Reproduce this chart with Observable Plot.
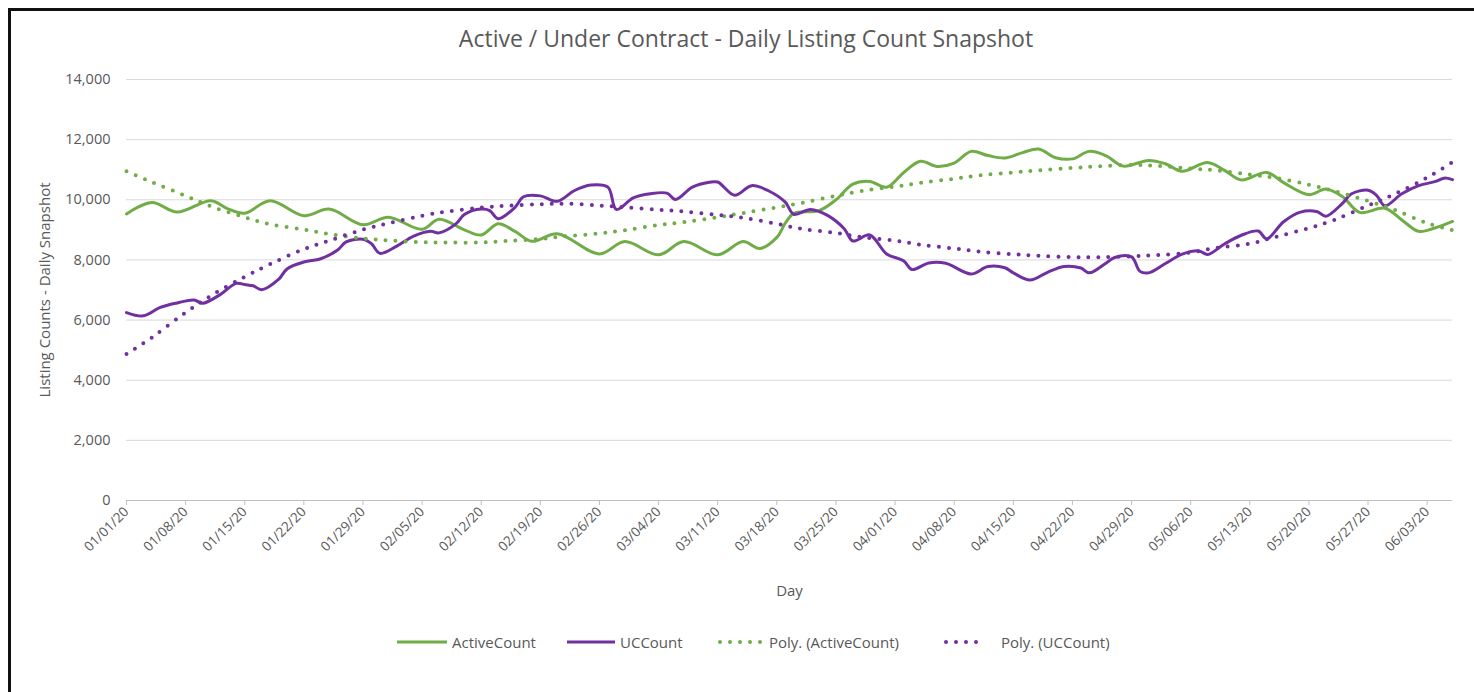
<!DOCTYPE html>
<html>
<head>
<meta charset="utf-8">
<script src="https://cdn.jsdelivr.net/npm/d3@7"></script>
<script src="https://cdn.jsdelivr.net/npm/@observablehq/plot@0.6"></script>
<style>
  html, body { margin: 0; padding: 0; background: #fff; }
  body { width: 1474px; height: 692px; position: relative; overflow: hidden; font-family: "Open Sans", sans-serif; color: #595959; }
  #frame { position: absolute; left: 8px; top: 8px; width: 1480px; height: 700px; border-left: 3px solid #111; border-top: 3px solid #111; box-sizing: border-box; }
  #title { position: absolute; left: 746px; top: 22px; transform: translateX(-50%); font-size: 23px; white-space: nowrap; color: #595959; }
  #chart { position: absolute; left: 0; top: 60px; }
  .leg { position: absolute; top: 632px; height: 20px; display: flex; align-items: center; font-size: 15px; color: #595959; white-space: nowrap; }
  .leg svg { display: block; margin-right: 3px; }
</style>
</head>
<body>
<div id="frame"></div>
<div id="title">Active / Under Contract - Daily Listing Count Snapshot</div>
<div id="chart"></div>
<div id="legend"></div>
<script>
// ---------- data ----------
const yTicks = [0, 2000, 4000, 6000, 8000, 10000, 12000, 14000];
const xTickLabels = ["01/01/20","01/08/20","01/15/20","01/22/20","01/29/20","02/05/20","02/12/20","02/19/20","02/26/20","03/04/20","03/11/20","03/18/20","03/25/20","04/01/20","04/08/20","04/15/20","04/22/20","04/29/20","05/06/20","05/13/20","05/20/20","05/27/20","06/03/20"];
const xDomain = ["01/01/20", "06/06/20"];

const activeDates = ["01/01","01/04","01/07","01/11","01/13","01/15","01/18","01/22","01/25","01/29","02/01","02/05","02/07","02/10","02/12","02/14","02/16","02/18","02/21","02/26","02/29","03/04","03/07","03/11","03/14","03/16","03/18","03/19","03/20","03/23","03/25","03/27","03/29","03/31","04/02","04/04","04/06","04/08","04/10","04/12","04/14","04/16","04/18","04/20","04/22","04/24","04/26","04/28","05/01","05/03","05/05","05/08","05/10","05/12","05/15","05/17","05/20","05/22","05/24","05/26","05/29","05/31","06/02","06/04","06/06"];
const activeValues = [9530,9910,9590,9970,9700,9555,9970,9470,9690,9170,9420,9020,9355,9000,8830,9200,8950,8620,8870,8200,8610,8170,8610,8170,8610,8380,8750,9220,9550,9640,10000,10520,10610,10420,10900,11280,11110,11220,11610,11470,11390,11560,11690,11400,11360,11610,11460,11120,11310,11200,10950,11240,10980,10660,10910,10570,10170,10360,10100,9580,9720,9330,8950,9070,9280];

const ucDates = ["01/01","01/03","01/05","01/07","01/09","01/10","01/12","01/14","01/15","01/16","01/17","01/19","01/20","01/22","01/24","01/26","01/27","01/29","01/30","01/31","02/02","02/04","02/06","02/07","02/09","02/10","02/12","02/13","02/14","02/16","02/17","02/19","02/21","02/23","02/25","02/27","02/28","03/01","03/03","03/05","03/06","03/08","03/10","03/11","03/13","03/15","03/17","03/19","03/20","03/22","03/24","03/26","03/27","03/29","03/31","04/02","04/03","04/05","04/07","04/10","04/12","04/14","04/15","04/17","04/19","04/21","04/23","04/24","04/26","04/27","04/29","04/30","05/01","05/03","05/05","05/07","05/08","05/10","05/12","05/14","05/15","05/17","05/19","05/21","05/22","05/24","05/25","05/27","05/28","05/29","05/31","06/02","06/04","06/05","06/06"];
const ucValues = [6250,6140,6420,6570,6670,6560,6830,7220,7180,7140,7010,7350,7700,7930,8040,8330,8600,8690,8540,8220,8460,8790,8950,8900,9200,9510,9690,9640,9370,9750,10100,10130,9950,10300,10490,10420,9680,10060,10200,10220,10010,10420,10580,10590,10150,10470,10300,9920,9520,9680,9480,9030,8630,8830,8200,7970,7680,7900,7890,7530,7780,7740,7570,7330,7580,7780,7730,7570,7900,8080,8100,7620,7570,7880,8190,8300,8180,8530,8820,8960,8700,9270,9590,9600,9450,9890,10190,10320,10150,9800,10200,10470,10610,10720,10670];

const polyActiveDates = ["01/01","01/04","01/08","01/11","01/15","01/18","01/22","01/25","01/29","02/01","02/05","02/08","02/12","02/15","02/19","02/22","02/26","02/29","03/04","03/07","03/11","03/14","03/18","03/21","03/25","03/28","04/01","04/04","04/08","04/11","04/15","04/18","04/22","04/25","04/29","05/02","05/06","05/09","05/13","05/16","05/20","05/23","05/27","05/30","06/03","06/06"];
const polyActiveValues = [10950,10590,10130,9780,9420,9190,9010,8860,8710,8650,8590,8580,8580,8630,8700,8790,8880,8990,9160,9260,9420,9560,9750,9900,10130,10290,10440,10560,10700,10810,10910,10980,11060,11110,11160,11130,11040,10980,10840,10730,10500,10290,9960,9680,9220,8990];

const polyUCDates = polyActiveDates;
const polyUCValues = [4870,5420,6250,6810,7440,7860,8360,8640,9010,9220,9470,9610,9740,9800,9850,9870,9810,9750,9670,9610,9500,9400,9200,9030,8900,8760,8640,8510,8380,8275,8190,8140,8090,8090,8120,8160,8250,8400,8540,8760,9060,9330,9810,10170,10740,11250];

const seriesNames = ["ActiveCount", "UCCount", "Poly. (ActiveCount)", "Poly. (UCCount)"];
const seriesColors = ["#70AD47", "#7030A0", "#70AD47", "#7030A0"];

// ---------- build ----------
const parseFull = d3.utcParse("%m/%d/%y");
const parseMD = s => parseFull(s + "/20");
const rows = (dates, vals) => dates.map((d, i) => ({date: parseMD(d), value: vals[i]}));
const active = rows(activeDates, activeValues);
const uc = rows(ucDates, ucValues);
const polyActive = rows(polyActiveDates, polyActiveValues);
const polyUC = rows(polyUCDates, polyUCValues);
const tickDates = xTickLabels.map(parseFull);

const chart = Plot.plot({
  width: 1474,
  height: 560,
  marginLeft: 126,
  marginRight: 22,
  marginTop: 19,
  marginBottom: 120,
  style: {fontFamily: "'Open Sans', sans-serif", fontSize: "12px", color: "#595959", background: "transparent", overflow: "visible"},
  x: {type: "utc", domain: xDomain.map(parseFull)},
  y: {domain: [0, 14000]},
  marks: [
    Plot.gridY(yTicks.filter(v => v > 0), {stroke: "#d9d9d9", strokeOpacity: 1, strokeWidth: 1}),
    Plot.ruleY([0], {stroke: "#bfbfbf", strokeWidth: 1}),
    Plot.axisY(yTicks, {tickSize: 0, tickPadding: 16, tickFormat: d3.format(","), label: null, fill: "#595959", fontSize: 14.5}),
    Plot.axisX(tickDates, {tickSize: 5, stroke: "#bfbfbf", tickRotate: -45, tickPadding: 4, tickFormat: d3.utcFormat("%m/%d/%y"), label: null, fill: "#595959", fontSize: 13.5}),
    Plot.line(active, {x: "date", y: "value", stroke: seriesColors[0], strokeWidth: 3, curve: "catmull-rom"}),
    Plot.line(uc, {x: "date", y: "value", stroke: seriesColors[1], strokeWidth: 3, curve: "catmull-rom"}),
    Plot.line(polyActive, {x: "date", y: "value", stroke: seriesColors[2], strokeWidth: 4, strokeDasharray: "0 10", strokeLinecap: "round", curve: "catmull-rom"}),
    Plot.line(polyUC, {x: "date", y: "value", stroke: seriesColors[3], strokeWidth: 4, strokeDasharray: "0 10", strokeLinecap: "round", curve: "catmull-rom"}),
    Plot.text(["Listing Counts - Daily Snapshot"], {frameAnchor: "left", textAnchor: "middle", dx: -81, rotate: -90, fontSize: 15, fill: "#595959"}),
    Plot.text(["Day"], {frameAnchor: "bottom", dy: 95, fontSize: 15, fill: "#595959"})
  ]
});
document.getElementById("chart").appendChild(chart);

// ---------- legend ----------
const legendLeft = [397, 567, 718, 944];
const legendSample = [50, 48, 46, 40];
const legend = document.getElementById("legend");
seriesNames.forEach((name, i) => {
  const item = document.createElement("div");
  item.className = "leg";
  item.style.left = legendLeft[i] + "px";
  const w = legendSample[i];
  const dotted = i >= 2;
  const svg = d3.create("svg").attr("width", w + (dotted && i === 3 ? 14 : 2)).attr("height", 20);
  svg.append("line")
    .attr("x1", dotted ? 2 : 0).attr("x2", w).attr("y1", 10).attr("y2", 10)
    .attr("stroke", seriesColors[i])
    .attr("stroke-width", dotted ? 4 : 3)
    .attr("stroke-linecap", dotted ? "round" : "butt")
    .attr("stroke-dasharray", dotted ? "0 10" : null);
  item.appendChild(svg.node());
  const span = document.createElement("span");
  span.textContent = name;
  item.appendChild(span);
  legend.appendChild(item);
});
</script>
</body>
</html>
